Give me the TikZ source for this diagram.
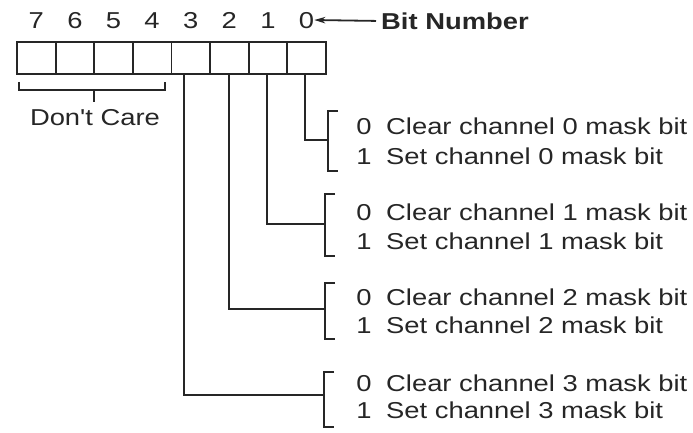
\documentclass[tikz,border=0pt]{standalone}
\usepackage{fontspec}
\setmainfont{Liberation Sans}[FakeStretch=1.19, Ligatures=TeXOff]
\usetikzlibrary{arrows.meta}
\definecolor{ink}{RGB}{38,38,38}
\begin{document}
\begin{tikzpicture}[x=1pt,y=-1pt,
  every node/.style={font=\fontsize{23}{28}\selectfont, text=ink, inner sep=0pt},
  cell/.style={draw=ink, line width=1.8pt, minimum width=38.6pt, minimum height=32pt},
  ln/.style={draw=ink, line width=1.8pt},
  bitnum/.style={text height=16.5pt, text depth=0pt},
  desc/.style={anchor=west, text height=16.5pt, text depth=0pt},
  dig/.style={text height=16.5pt, text depth=0pt}]
\useasboundingbox (0,0) rectangle (693,433);
% register cells
\foreach \i/\x in {7/36.3,6/74.9,5/113.5,4/152.1,3/190.7,2/229.3,1/267.9,0/306.5}{
  \node[cell] (c\i) at (\x,58) {};
  \node[bitnum] (n\i) at (\x,20) {\i};
}
\node[font=\fontsize{23}{28}\selectfont\bfseries, anchor=west, text height=16.5pt, text depth=0pt] (bn) at (381,21) {Bit Number};
\draw[ln, -{Stealth[length=11pt,width=6.5pt]}, shorten <=5pt] (bn.west) -- (n0.east);
% Don't care
\node (dc) at (95,118) {Don't Care};
\coordinate (dcm) at (94,90);
\draw[ln] (19,82) -- (19,90) -- (165,90) -- (165,82);
\draw[ln] (dcm) -- (94,102);
% bracket join points
\coordinate (g0) at (328,140);
\coordinate (g1) at (325,224);
\coordinate (g2) at (325,309);
\coordinate (g3) at (324,395);
% connectors
\draw[ln] (305,74) |- (g0);
\draw[ln] (267,74) |- (g1);
\draw[ln] (229,74) |- (g2);
\draw[ln] (184,74) |- (g3);
% brackets
\draw[ln] (338,111) -- (328,111) -- (328,171) -- (338,171);
\draw[ln] (335,194) -- (325,194) -- (325,256) -- (335,256);
\draw[ln] (335,283) -- (325,283) -- (325,339) -- (335,339);
\draw[ln] (334,372) -- (324,372) -- (324,427) -- (334,427);
% texts
\foreach \k/\ya/\yb in {0/126/156,1/212/241,2/297/325,3/383/410}{
  \node[dig] (z\k) at (364,\ya) {0};
  \node[dig] (o\k) at (364,\yb) {1};
  \node[desc] (t\k a) at (386,\ya) {Clear channel \k\ mask bit};
  \node[desc] (t\k b) at (386,\yb) {Set channel \k\ mask bit};
}
\end{tikzpicture}
\end{document}
